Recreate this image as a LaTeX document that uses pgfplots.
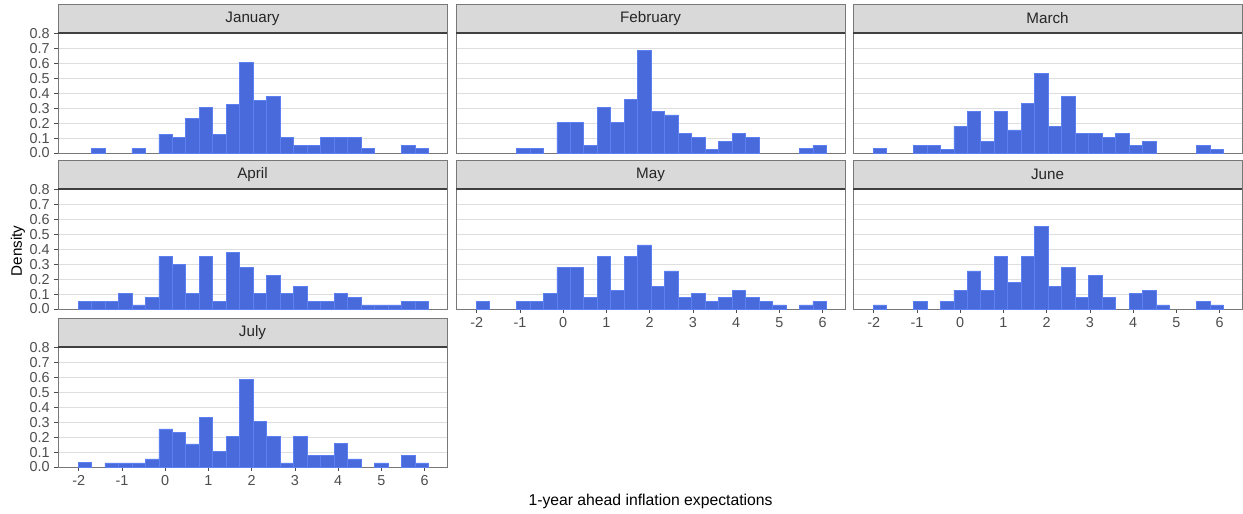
\documentclass[border=0pt]{standalone}
\usepackage{fontspec}
\setmainfont{Liberation Sans}
\usepackage{pgfplots}
\usepackage{pgfplotstable}
\pgfplotsset{compat=1.18}

\definecolor{barfill}{RGB}{72,106,218}
\definecolor{barline}{RGB}{92,128,242}
\definecolor{stripbg}{RGB}{217,217,217}
\definecolor{frame}{RGB}{120,120,120}
\definecolor{gridc}{RGB}{222,222,222}
\definecolor{ticktext}{RGB}{77,77,77}

% density per bin (bin centres in x), one column per month
\pgfplotstableread{
x      jan   feb   mar   apr   may   jun   jul
-1.859 0     0     0.030 0.051 0.051 0.027 0.030
-1.548 0.030 0     0     0.051 0     0     0
-1.236 0     0     0     0.051 0     0     0.027
-0.925 0     0.030 0.050 0.103 0.051 0.051 0.027
-0.613 0.030 0.030 0.050 0.027 0.051 0     0.027
-0.302 0     0     0.025 0.076 0.103 0.051 0.054
0.010  0.127 0.205 0.180 0.355 0.280 0.127 0.255
0.321  0.105 0.205 0.280 0.300 0.280 0.255 0.230
0.633  0.230 0.050 0.080 0.103 0.076 0.127 0.155
0.944  0.304 0.305 0.280 0.355 0.355 0.355 0.330
1.256  0.127 0.205 0.155 0.051 0.127 0.180 0.105
1.567  0.328 0.360 0.330 0.380 0.355 0.355 0.205
1.879  0.606 0.690 0.535 0.280 0.430 0.556 0.585
2.190  0.355 0.280 0.180 0.103 0.152 0.152 0.307
2.502  0.380 0.255 0.380 0.228 0.255 0.280 0.205
2.813  0.105 0.130 0.130 0.103 0.076 0.076 0.027
3.125  0.051 0.105 0.130 0.152 0.103 0.228 0.205
3.436  0.051 0.025 0.105 0.051 0.051 0.076 0.078
3.748  0.105 0.080 0.130 0.051 0.076 0     0.078
4.059  0.105 0.130 0.050 0.103 0.127 0.103 0.157
4.371  0.105 0.105 0.080 0.076 0.076 0.127 0.054
4.682  0.030 0     0     0.027 0.051 0.027 0
4.994  0     0     0     0.027 0.027 0     0.027
5.305  0     0     0     0.027 0     0     0
5.617  0.051 0.030 0.050 0.051 0.027 0.051 0.078
5.928  0.030 0.050 0.025 0.051 0.051 0.027 0.027
}\densities

\pgfplotsset{
  panel/.style={
    width=291.75pt, height=90pt, scale only axis, anchor=south west,
    xmin=-2.478, xmax=6.516, ymin=0, ymax=0.805,
    axis line style={draw=frame, line width=0.7pt},
    ymajorgrids, major grid style={draw=gridc, line width=0.6pt},
    ytick={0,0.1,0.2,0.3,0.4,0.5,0.6,0.7,0.8},
    xtick={-2,-1,0,1,2,3,4,5,6},
    yticklabels={}, xticklabels={},
    tick style={draw=ticktext, line width=0.6pt},
    xtick style={draw=none}, ytick style={draw=none},
    tick align=outside, major tick length=2.75pt,
    xtick pos=bottom, ytick pos=left,
    ticklabel style={font=\fontsize{10.8}{12}\selectfont, text=ticktext},
    clip=false,
  },
  ylab/.style={
    yticklabels={0.0,0.1,0.2,0.3,0.4,0.5,0.6,0.7,0.8},
    ytick style={draw=ticktext},
  },
  xlab/.style={
    xticklabels={-2,-1,0,1,2,3,4,5,6},
    xtick style={draw=ticktext},
  },
  hist/.style={ybar, bar width=0.3115, fill=barfill, draw=barline,
    line width=0.5pt, restrict y to domain=0.001:2},
}

\newcommand{\strip}[1]{%
  \draw[fill=stripbg, draw=frame, line width=0.7pt]
    (rel axis cs:0,1) rectangle ([yshift=21.75pt]rel axis cs:1,1);
  \draw[black!75, line width=0.9pt] (rel axis cs:0,1) -- (rel axis cs:1,1);
  \node[font=\fontsize{11.4}{13}\selectfont, text=black!85]
    at ([yshift=10.9pt]rel axis cs:0.5,1) {#1};
}

\begin{document}
\begin{tikzpicture}
\path (0,0) rectangle (932.25pt,383.25pt);

\begin{axis}[panel, ylab, at={(43.5pt,268.5pt)}]
\addplot[hist] table[x=x, y=jan] {\densities};
\strip{January}
\end{axis}

\begin{axis}[panel, at={(342pt,268.5pt)}]
\addplot[hist] table[x=x, y=feb] {\densities};
\strip{February}
\end{axis}

\begin{axis}[panel, at={(639.75pt,268.5pt)}]
\addplot[hist] table[x=x, y=mar] {\densities};
\strip{March}
\end{axis}

\begin{axis}[panel, ylab, at={(43.5pt,151.5pt)}]
\addplot[hist] table[x=x, y=apr] {\densities};
\strip{April}
\end{axis}

\begin{axis}[panel, xlab, at={(342pt,151.5pt)}]
\addplot[hist] table[x=x, y=may] {\densities};
\strip{May}
\end{axis}

\begin{axis}[panel, xlab, at={(639.75pt,151.5pt)}]
\addplot[hist] table[x=x, y=jun] {\densities};
\strip{June}
\end{axis}

\begin{axis}[panel, ylab, xlab, at={(43.5pt,33pt)}]
\addplot[hist] table[x=x, y=jul] {\densities};
\strip{July}
\end{axis}

\node[rotate=90, font=\fontsize{11.4}{13}\selectfont] at (13.5pt,195pt) {Density};
\node[font=\fontsize{11.8}{13}\selectfont] at (487.9pt,7pt) {1-year ahead inflation expectations};
\end{tikzpicture}
\end{document}
